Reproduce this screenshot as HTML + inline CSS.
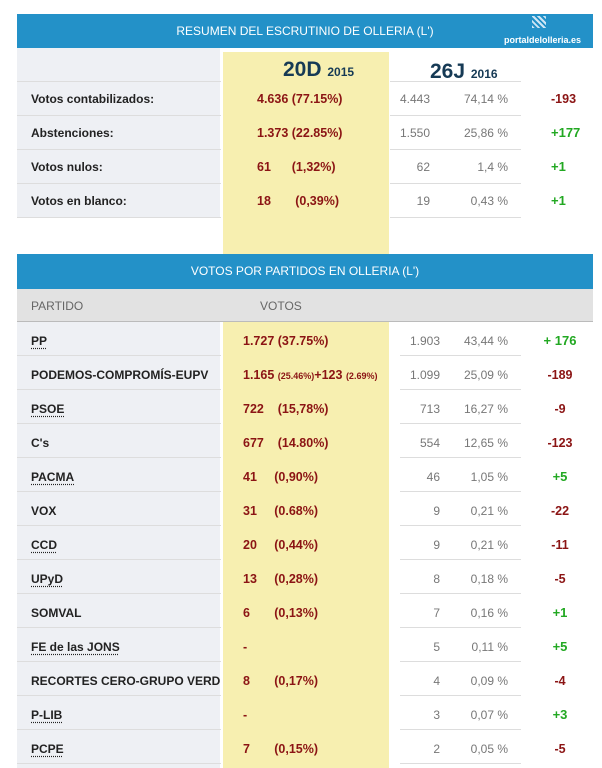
<!DOCTYPE html>
<html><head><meta charset="utf-8"><style>
body{margin:0;width:602px;height:768px;background:#fff;position:relative;overflow:hidden;font-family:"Liberation Sans",sans-serif}
div{position:absolute;box-sizing:border-box}
.bar{left:17px;width:576px;background:#2391c8;color:#fff;font-size:12px;text-align:center}
.lab{left:17px;width:203px;background:#eef0f4}
.yel{left:223px;width:166px;background:#f7efb0}
.t{white-space:nowrap;font-size:12px;line-height:14px}
.b{font-weight:bold;color:#222}
.u{text-decoration:underline dotted #222;text-underline-offset:3px}
.r{color:#8b1414;font-weight:bold;font-size:12.5px}
.g{color:#777;text-align:right}
.gr{color:#22a822;font-weight:bold;font-size:13px}
.sep{height:1px;background:#ddd}
</style></head><body>
<div class="bar" style="top:14px;height:34px;line-height:34px">RESUMEN DEL ESCRUTINIO DE OLLERIA (L')</div>
<div class="t" style="top:33px;left:504px;color:#fff;font-size:9px;font-weight:bold">portaldelolleria.es</div>
<div style="top:16px;left:532px;width:14px;height:12px;background:repeating-linear-gradient(45deg,#cfe6f5 0 2px,transparent 2px 4px)"></div>
<div class="lab" style="top:48px;height:170px"></div>
<div class="yel" style="top:52px;height:202px"></div>
<div class="t" style="top:58px;left:283px;font-size:21px;line-height:24px;color:#163a55;font-weight:bold">20D <span style="font-size:12px">2015</span></div>
<div class="t" style="top:60px;left:430px;font-size:21px;line-height:24px;color:#163a55;font-weight:bold">26J <span style="font-size:12px">2016</span></div>
<div class="sep" style="top:81px;left:17px;width:204px"></div><div class="sep" style="top:81px;left:390px;width:131px"></div>
<div class="sep" style="top:115px;left:17px;width:204px"></div><div class="sep" style="top:115px;left:390px;width:131px"></div>
<div class="sep" style="top:149px;left:17px;width:204px"></div><div class="sep" style="top:149px;left:390px;width:131px"></div>
<div class="sep" style="top:183px;left:17px;width:204px"></div><div class="sep" style="top:183px;left:390px;width:131px"></div>
<div class="sep" style="top:217px;left:17px;width:204px"></div><div class="sep" style="top:217px;left:390px;width:131px"></div>
<div class="t b" style="top:92px;left:31px">Votos contabilizados:</div>
<div class="t r" style="top:92px;left:257px">4.636 (77.15%)</div>
<div class="t g" style="top:92px;left:380px;width:50px">4.443</div>
<div class="t g" style="top:92px;left:440px;width:68px">74,14 %</div>
<div class="t r" style="top:92px;left:551px">-193</div>
<div class="t b" style="top:126px;left:31px">Abstenciones:</div>
<div class="t r" style="top:126px;left:257px">1.373 (22.85%)</div>
<div class="t g" style="top:126px;left:380px;width:50px">1.550</div>
<div class="t g" style="top:126px;left:440px;width:68px">25,86 %</div>
<div class="t gr" style="top:126px;left:551px">+177</div>
<div class="t b" style="top:160px;left:31px">Votos nulos:</div>
<div class="t r" style="top:160px;left:257px">61&nbsp;&nbsp;&nbsp;&nbsp;&nbsp;&nbsp;(1,32%)</div>
<div class="t g" style="top:160px;left:380px;width:50px">62</div>
<div class="t g" style="top:160px;left:440px;width:68px">1,4 %</div>
<div class="t gr" style="top:160px;left:551px">+1</div>
<div class="t b" style="top:194px;left:31px">Votos en blanco:</div>
<div class="t r" style="top:194px;left:257px">18&nbsp;&nbsp;&nbsp;&nbsp;&nbsp;&nbsp;&nbsp;(0,39%)</div>
<div class="t g" style="top:194px;left:380px;width:50px">19</div>
<div class="t g" style="top:194px;left:440px;width:68px">0,43 %</div>
<div class="t gr" style="top:194px;left:551px">+1</div>

<div class="bar" style="top:254px;height:35px;line-height:35px">VOTOS POR PARTIDOS EN OLLERIA (L')</div>
<div style="top:289px;left:17px;width:576px;height:33px;background:#e2e2e2;border-bottom:1px solid #bbb"></div>
<div class="t" style="top:299px;left:31px;color:#666">PARTIDO</div>
<div class="t" style="top:299px;left:260px;color:#666">VOTOS</div>
<div class="lab" style="top:322px;height:446px"></div>
<div class="yel" style="top:322px;height:446px"></div>
<div id="rows"></div>
<script>
var d=[["PP",1,"1.727 (37.75%)","1.903","43,44 %","+ 176",1],
["PODEMOS-COMPROMÍS-EUPV",0,"1.165 <span style='font-size:9px'>(25.46%)</span>+123 <span style='font-size:9px'>(2.69%)</span>","1.099","25,09 %","-189",0],
["PSOE",1,"722&nbsp;&nbsp;&nbsp;&nbsp;(15,78%)","713","16,27 %","-9",0],
["C's",0,"677&nbsp;&nbsp;&nbsp;&nbsp;(14.80%)","554","12,65 %","-123",0],
["PACMA",1,"41&nbsp;&nbsp;&nbsp;&nbsp;&nbsp;(0,90%)","46","1,05 %","+5",1],
["VOX",0,"31&nbsp;&nbsp;&nbsp;&nbsp;&nbsp;(0.68%)","9","0,21 %","-22",0],
["CCD",1,"20&nbsp;&nbsp;&nbsp;&nbsp;&nbsp;(0,44%)","9","0,21 %","-11",0],
["UPyD",1,"13&nbsp;&nbsp;&nbsp;&nbsp;&nbsp;(0,28%)","8","0,18 %","-5",0],
["SOMVAL",0,"6&nbsp;&nbsp;&nbsp;&nbsp;&nbsp;&nbsp;&nbsp;(0,13%)","7","0,16 %","+1",1],
["FE de las JONS",1,"-","5","0,11 %","+5",1],
["RECORTES CERO-GRUPO VERDE",0,"8&nbsp;&nbsp;&nbsp;&nbsp;&nbsp;&nbsp;&nbsp;(0,17%)","4","0,09 %","-4",0],
["P-LIB",1,"-","3","0,07 %","+3",1],
["PCPE",1,"7&nbsp;&nbsp;&nbsp;&nbsp;&nbsp;&nbsp;&nbsp;(0,15%)","2","0,05 %","-5",0]];
var h="";
d.forEach(function(r,i){var y=322+i*34,ty=y+12;
h+='<div class="t b" style="top:'+ty+'px;left:31px;width:189px;height:18px;overflow:hidden"><span class="'+(r[1]?'u':'')+'">'+r[0]+'</span></div>';
h+='<div class="t r" style="top:'+ty+'px;left:243px">'+r[2]+'</div>';
h+='<div class="t g" style="top:'+ty+'px;left:390px;width:50px">'+r[3]+'</div>';
h+='<div class="t g" style="top:'+ty+'px;left:440px;width:68px">'+r[4]+'</div>';
h+='<div class="t '+(r[6]?'gr':'r')+'" style="top:'+ty+'px;left:540px;width:40px;text-align:center">'+r[5]+'</div>';
h+='<div class="sep" style="top:'+(y+33)+'px;left:17px;width:204px"></div><div class="sep" style="top:'+(y+33)+'px;left:400px;width:121px"></div>';});
document.getElementById("rows").outerHTML=h;
</script>
</body></html>
